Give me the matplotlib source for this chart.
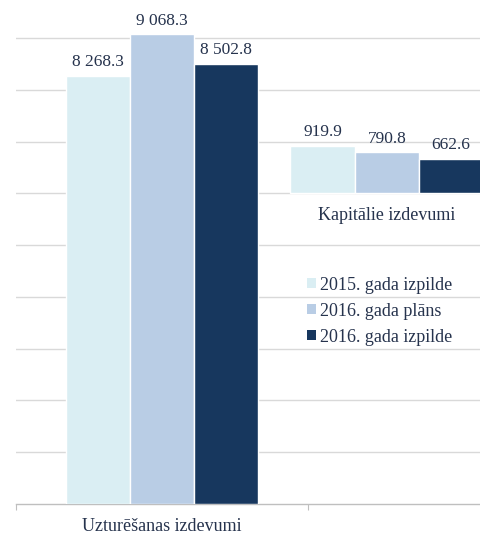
import matplotlib
matplotlib.use("Agg")
import matplotlib.pyplot as plt
import numpy as np
from matplotlib.patches import Patch

plt.rcParams["font.family"] = ["Liberation Serif", "DejaVu Serif"]

# data
categories = ["Uzturēšanas izdevumi", "Kapitālie izdevumi"]
series = ["2015. gada izpilde", "2016. gada plāns", "2016. gada izpilde"]
values = {
    "2015. gada izpilde": [8268.3, 919.9],
    "2016. gada plāns": [9068.3, 790.8],
    "2016. gada izpilde": [8502.8, 662.6],
}
colors = ["#DAEEF3", "#B9CDE5", "#17375E"]
text_color = "#26334D"

# layout of the (shifted) second group, as in the source chart
group_x = [0.0, 0.77]
group_base = [0, 6000]
bar_w = 0.22

W, H = 481, 536
fig = plt.figure(figsize=(W / 100, H / 100), dpi=100)
ax = fig.add_axes([16 / W, 32 / H, 1 - 16 / W, 1 - 32 / H])

for j, name in enumerate(series):
    offs = (j - 1) * bar_w
    for i in range(len(categories)):
        v = values[name][i]
        x = group_x[i] + offs
        ax.bar(x, v, width=bar_w, bottom=group_base[i], color=colors[j],
               edgecolor="white", linewidth=1.0, zorder=3)
        ax.annotate(f"{v:,.1f}".replace(",", " "), (x, group_base[i] + v),
                    xytext=(0, 4), textcoords="offset points",
                    ha="center", va="bottom", fontsize=12.5, color=text_color)

for i, cat in enumerate(categories):
    ax.annotate(cat, (group_x[i], group_base[i]), xytext=(0, -16),
                textcoords="offset points", ha="center", va="center",
                fontsize=13, color=text_color)

ax.set_ylim(0, 9734)
ax.set_xlim(-0.5, -0.5 + 465 / 292)
ax.set_yticks(np.arange(1000, 9001, 1000))
ax.yaxis.grid(True, color="#D9D9D9", linewidth=1.0, zorder=0)
ax.set_axisbelow(True)
ax.tick_params(axis="y", length=0, labelleft=False)
ax.set_xticks([-0.5, 0.5])
ax.tick_params(axis="x", length=4, color="#BFBFBF", labelbottom=False)
for s in ["top", "right", "left"]:
    ax.spines[s].set_visible(False)
ax.spines["bottom"].set_color("#BFBFBF")
ax.spines["bottom"].set_linewidth(1.0)

handles = [Patch(facecolor=c, edgecolor="none") for c in colors]
ax.legend(handles, series, loc="upper left",
          bbox_to_anchor=(294 / W, 1 - 264 / H), bbox_transform=fig.transFigure,
          frameon=False, fontsize=13, handlelength=0.5, handleheight=0.5,
          handletextpad=0.25, borderpad=0.2, labelspacing=0.5,
          labelcolor=text_color)

fig.savefig("out.png", dpi=100, facecolor="white")
